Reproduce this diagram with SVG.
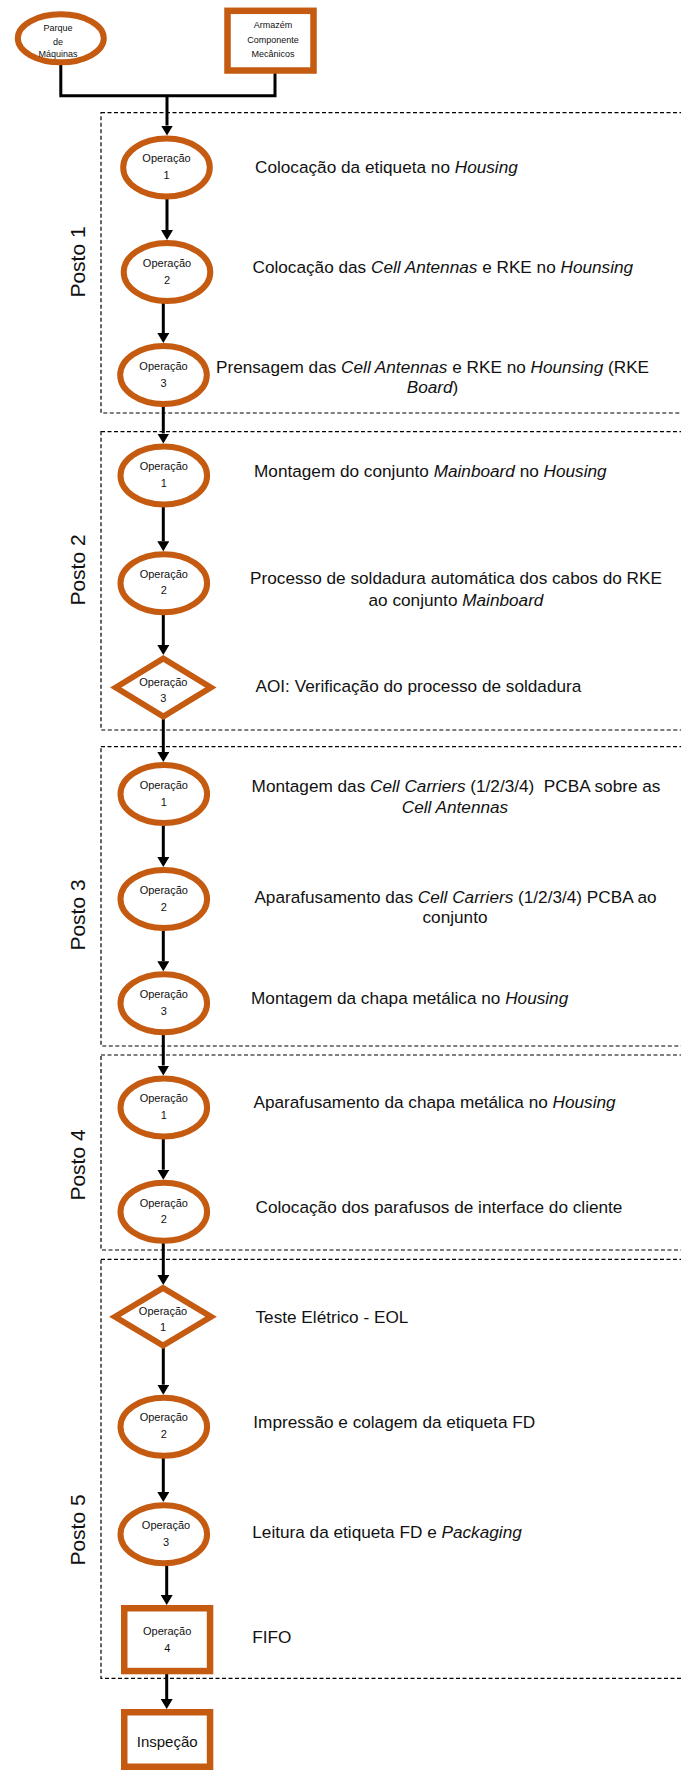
<svg xmlns="http://www.w3.org/2000/svg" width="681" height="1775" viewBox="0 0 681 1775">
<defs>
<marker id="ah" viewBox="0 0 10 12" markerWidth="10" markerHeight="12" refX="0" refY="6" orient="auto" markerUnits="userSpaceOnUse">
<path d="M0,0 L10,6 L0,12 z" fill="#000"/>
</marker>
<style>
.bg{fill:#fff}
.posto{fill:none;stroke:#000;stroke-width:1.2;stroke-dasharray:4 2.5}
.op{fill:#fff;stroke:#C55A11;stroke-width:6}
.rop{fill:#fff;stroke:#C55A11;stroke-width:6.5}
.con{fill:none;stroke:#000;stroke-width:3}
.arr{fill:none;stroke:#000;stroke-width:3;marker-end:url(#ah)}
.t{font-family:"Liberation Sans",Arial,sans-serif;fill:#111}
.lbl{font-size:17.2px}
.c{text-anchor:middle}
.sm{font-size:11px;text-anchor:middle}
.xs{font-size:9px;text-anchor:middle}
.pt{font-size:21px;text-anchor:middle}
.i{font-style:italic}
</style>
</defs>
<rect class="bg" x="0" y="0" width="681" height="1775"/>

<g id="postos">
<g id="posto1"><rect class="posto" x="101" y="112.7" width="620" height="300.3"/><text class="t pt" transform="translate(85,262) rotate(-90)">Posto 1</text></g>
<g id="posto2"><rect class="posto" x="101" y="431.7" width="620" height="298.3"/><text class="t pt" transform="translate(85,570) rotate(-90)">Posto 2</text></g>
<g id="posto3"><rect class="posto" x="101" y="746.7" width="620" height="299.3"/><text class="t pt" transform="translate(85,915) rotate(-90)">Posto 3</text></g>
<g id="posto4"><rect class="posto" x="101" y="1055" width="620" height="195"/><text class="t pt" transform="translate(85,1165) rotate(-90)">Posto 4</text></g>
<g id="posto5"><rect class="posto" x="101" y="1259.3" width="620" height="419"/><text class="t pt" transform="translate(85,1530) rotate(-90)">Posto 5</text></g>
</g>

<g id="connectors">
<polyline class="con" points="60.8,64 60.8,95.7 275,95.7 275,73"/>
<line class="arr" x1="167" y1="95.7" x2="167" y2="125.5"/>
<line class="arr" x1="167" y1="199" x2="167" y2="230"/>
<line class="arr" x1="163.3" y1="303" x2="163.3" y2="333"/>
<line class="arr" x1="163.3" y1="406" x2="163.3" y2="433.5"/>
<line class="arr" x1="163.3" y1="507" x2="163.3" y2="541.3"/>
<line class="arr" x1="163.3" y1="614.5" x2="163.3" y2="645"/>
<line class="arr" x1="163.3" y1="719" x2="163.3" y2="752"/>
<line class="arr" x1="163.3" y1="825.5" x2="163.3" y2="857"/>
<line class="arr" x1="163.3" y1="930.5" x2="163.3" y2="961.3"/>
<line class="arr" x1="163.3" y1="1034.5" x2="163.3" y2="1065.5"/>
<line class="arr" x1="163.3" y1="1139" x2="163.3" y2="1169.7"/>
<line class="arr" x1="163.3" y1="1243" x2="163.3" y2="1275"/>
<line class="arr" x1="163.3" y1="1347.5" x2="163.3" y2="1384.7"/>
<line class="arr" x1="163.3" y1="1458" x2="163.3" y2="1492"/>
<line class="arr" x1="166.7" y1="1565.5" x2="166.7" y2="1595"/>
<line class="arr" x1="166.7" y1="1673" x2="166.7" y2="1699"/>
</g>

<g id="parque">
<ellipse class="op" cx="60.8" cy="38.3" rx="43" ry="24"/>
<text class="t xs" x="58" y="31">Parque</text>
<text class="t xs" x="58" y="45">de</text>
<text class="t xs" x="58" y="57">Máquinas</text>
</g>
<g id="armazem">
<rect class="rop" x="227.5" y="10.8" width="86" height="59.7"/>
<text class="t xs" x="273" y="28">Armazém</text>
<text class="t xs" x="273" y="43">Componente</text>
<text class="t xs" x="273" y="57">Mecânicos</text>
</g>

<g id="p1op1">
<ellipse class="op" cx="166.5" cy="167.5" rx="43.3" ry="29"/>
<text class="t sm" x="166.5" y="162">Operação</text><text class="t sm" x="166.5" y="179">1</text>
<text class="t lbl" x="255" y="172.5">Colocação da etiqueta no <tspan class="i">Housing</tspan></text>
</g>
<g id="p1op2">
<ellipse class="op" cx="167" cy="272" rx="43.3" ry="29"/>
<text class="t sm" x="167" y="266.5">Operação</text><text class="t sm" x="167" y="283.5">2</text>
<text class="t lbl" x="252.5" y="272.5">Colocação das <tspan class="i">Cell Antennas</tspan> e RKE no <tspan class="i">Hounsing</tspan></text>
</g>
<g id="p1op3">
<ellipse class="op" cx="163.5" cy="375" rx="43.3" ry="29"/>
<text class="t sm" x="163.5" y="369.5">Operação</text><text class="t sm" x="163.5" y="386.5">3</text>
<text class="t lbl c" x="432.5" y="372.7">Prensagem das <tspan class="i">Cell Antennas</tspan> e RKE no <tspan class="i">Hounsing</tspan> (RKE</text>
<text class="t lbl c" x="432.5" y="393.3"><tspan class="i">Board</tspan>)</text>
</g>

<g id="p2op1">
<ellipse class="op" cx="163.8" cy="475.5" rx="43.3" ry="29"/>
<text class="t sm" x="163.8" y="470">Operação</text><text class="t sm" x="163.8" y="487">1</text>
<text class="t lbl" x="254" y="476.7">Montagem do conjunto <tspan class="i">Mainboard</tspan> no <tspan class="i">Housing</tspan></text>
</g>
<g id="p2op2">
<ellipse class="op" cx="163.8" cy="583.3" rx="43.3" ry="29"/>
<text class="t sm" x="163.8" y="578">Operação</text><text class="t sm" x="163.8" y="594">2</text>
<text class="t lbl c" x="456" y="584">Processo de soldadura automática dos cabos do RKE</text>
<text class="t lbl c" x="456" y="606">ao conjunto <tspan class="i">Mainboard</tspan></text>
</g>
<g id="p2op3">
<path class="op" d="M115.8,687.5 L163.3,658.5 L210.8,687.5 L163.3,716.5 Z"/>
<text class="t sm" x="163.3" y="685.5">Operação</text><text class="t sm" x="163.3" y="702">3</text>
<text class="t lbl" x="255.5" y="691.7">AOI: Verificação do processo de soldadura</text>
</g>

<g id="p3op1">
<ellipse class="op" cx="163.8" cy="794" rx="43.3" ry="29"/>
<text class="t sm" x="163.8" y="788.5">Operação</text><text class="t sm" x="163.8" y="805.5">1</text>
<text class="t lbl c" x="456" y="791.7" style="white-space:pre">Montagem das <tspan class="i">Cell Carriers</tspan> (1/2/3/4)  PCBA sobre as</text>
<text class="t lbl c" x="455" y="813.3"><tspan class="i">Cell Antennas</tspan></text>
</g>
<g id="p3op2">
<ellipse class="op" cx="163.8" cy="899" rx="43.3" ry="29"/>
<text class="t sm" x="163.8" y="893.5">Operação</text><text class="t sm" x="163.8" y="910.5">2</text>
<text class="t lbl c" x="455.5" y="902.7">Aparafusamento das <tspan class="i">Cell Carriers</tspan> (1/2/3/4) PCBA ao</text>
<text class="t lbl c" x="455" y="923.3">conjunto</text>
</g>
<g id="p3op3">
<ellipse class="op" cx="163.8" cy="1003.3" rx="43.3" ry="29"/>
<text class="t sm" x="163.8" y="998">Operação</text><text class="t sm" x="163.8" y="1015">3</text>
<text class="t lbl" x="251" y="1004">Montagem da chapa metálica no <tspan class="i">Housing</tspan></text>
</g>

<g id="p4op1">
<ellipse class="op" cx="163.8" cy="1107.5" rx="43.3" ry="29"/>
<text class="t sm" x="163.8" y="1102">Operação</text><text class="t sm" x="163.8" y="1119">1</text>
<text class="t lbl" x="253.5" y="1108.3">Aparafusamento da chapa metálica no <tspan class="i">Housing</tspan></text>
</g>
<g id="p4op2">
<ellipse class="op" cx="163.8" cy="1211.7" rx="43.3" ry="29"/>
<text class="t sm" x="163.8" y="1206.5">Operação</text><text class="t sm" x="163.8" y="1222.5">2</text>
<text class="t lbl" x="255.5" y="1213.3">Colocação dos parafusos de interface do cliente</text>
</g>

<g id="p5op1">
<path class="op" d="M115,1316.7 L163,1288 L211,1316.7 L163,1345.5 Z"/>
<text class="t sm" x="163" y="1314.5">Operação</text><text class="t sm" x="163" y="1331">1</text>
<text class="t lbl" x="255.5" y="1323">Teste Elétrico - EOL</text>
</g>
<g id="p5op2">
<ellipse class="op" cx="163.8" cy="1426.7" rx="43.3" ry="29"/>
<text class="t sm" x="163.8" y="1421">Operação</text><text class="t sm" x="163.8" y="1438">2</text>
<text class="t lbl" x="253.3" y="1427.7">Impressão e colagem da etiqueta FD</text>
</g>
<g id="p5op3">
<ellipse class="op" cx="163.8" cy="1534.2" rx="43.3" ry="29"/>
<text class="t sm" x="166" y="1528.5">Operação</text><text class="t sm" x="166" y="1545.5">3</text>
<text class="t lbl" x="252.3" y="1538.3">Leitura da etiqueta FD e <tspan class="i">Packaging</tspan></text>
</g>
<g id="p5op4">
<rect class="rop" x="124.25" y="1608.25" width="85.8" height="62.8"/>
<text class="t sm" x="167.2" y="1635">Operação</text><text class="t sm" x="167.2" y="1652">4</text>
<text class="t lbl" x="252.3" y="1643.3">FIFO</text>
</g>

<g id="inspecao">
<rect class="rop" x="124.25" y="1712.25" width="85.8" height="54.5"/>
<text class="t" style="font-size:15px;text-anchor:middle" x="167.2" y="1746.5">Inspeção</text>
</g>
</svg>
